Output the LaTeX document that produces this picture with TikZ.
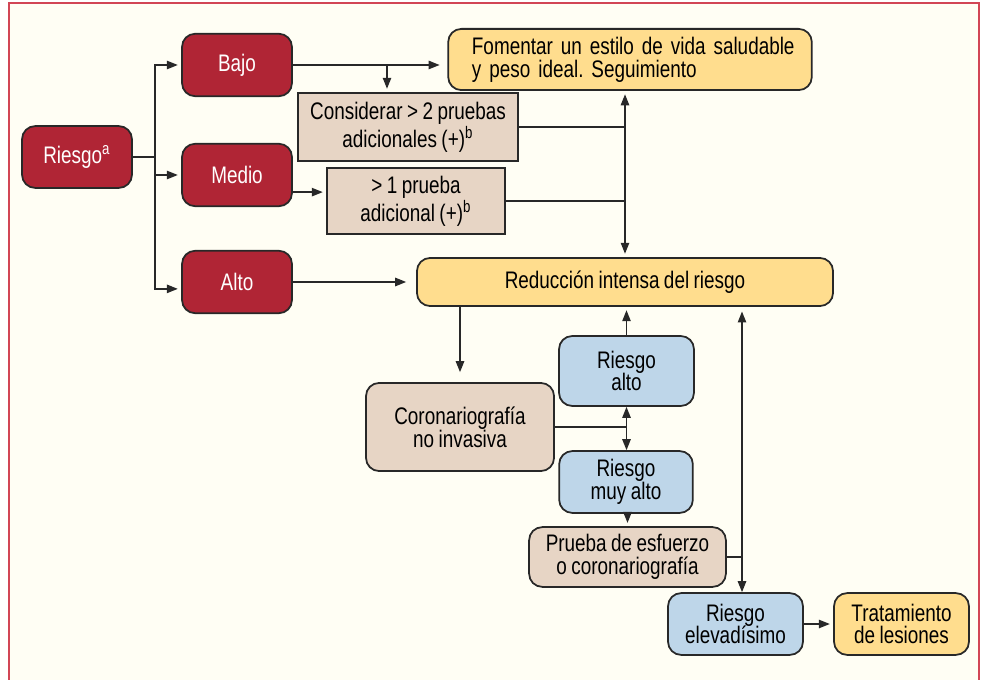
\documentclass[tikz,border=0pt]{standalone}
\usepackage{fontspec}
\setmainfont[FakeStretch=0.79, WordSpace=0.85]{Liberation Sans}
\usepackage{xcolor}
\definecolor{RiskRed}     {RGB}{176, 37,  53}
\definecolor{AdviceYellow}{RGB}{255, 221, 142}
\definecolor{TestTan}     {RGB}{231, 213, 197}
\definecolor{StageBlue}   {RGB}{190, 214, 233}
\definecolor{PaperCream}  {RGB}{255, 254, 244}
\definecolor{FrameRed}    {RGB}{210, 70,  85}
\definecolor{LineGray}    {RGB}{40,  40,  40}
\usepackage{tikz}
\usetikzlibrary{
  arrows.meta,
  calc
}
\frenchspacing

\begin{document}
\begin{tikzpicture}[
  x=0.016cm, y=-0.016cm,
  font=\fontsize{10.9}{10.4}\selectfont,
  level/.style={
    draw=LineGray, fill=RiskRed,
    text=white, rounded corners=6pt,
    minimum width=1.76cm,
    minimum height=1cm,
    align=center, line width=0.8pt
  },
  advice/.style={
    draw=LineGray, fill=AdviceYellow,
    rounded corners=6pt,
    align=center, line width=0.8pt
  },
  test/.style={
    draw=LineGray, fill=TestTan,
    align=center, line width=0.8pt
  },
  stage/.style={
    draw=LineGray, fill=StageBlue,
    rounded corners=6pt,
    minimum width=2.16cm,
    align=center, line width=0.8pt
  },
  link/.style={
    line width=0.7pt, color=LineGray},
  arrow/.style={
    -{Triangle[length=5pt,width=3.8pt]},
    shorten >=1.5pt,
    line width=0.7pt, color=LineGray},
  both/.style={
    {Triangle[length=5pt,width=3.8pt]}-{Triangle[length=5pt,width=3.8pt]},
    line width=0.7pt, color=LineGray}
]

\useasboundingbox (0,0) rectangle (981,680);
\fill[PaperCream] (9,3) rectangle (979,680);
\draw[FrameRed, line width=0.6pt]
  (9,680) -- (9,3) -- (979,3) -- (979,680);

% risk levels
\node[level, minimum height=0.99cm]
  (riesgo) at (77,157)
  {Riesgo\textsuperscript{a}};
\node[level] (bajo)  at (237,65)  {Bajo};
\node[level] (medio) at (237,175) {Medio};
\node[level] (alto)  at (237,282) {Alto};

% recommendations
\node[advice, align=left,
  text width=5.06cm, inner xsep=0.38cm,
  minimum height=0.98cm]
  (fomentar) at (630,59.5)
  {\mbox{Fomentar un estilo de vida saludable}\\
  y peso ideal. Seguimiento};
\node[test, minimum width=3.52cm,
  minimum height=1.09cm]
  (considerar) at (408,127)
  {Considerar > 2 pruebas\\
  adicionales (+)\textsuperscript{b}};
\node[test, minimum width=2.85cm,
  minimum height=1.06cm]
  (unaprueba) at (416,201)
  {> 1 prueba\\adicional (+)\textsuperscript{b}};
\node[advice, minimum width=6.66cm,
  minimum height=0.77cm]
  (reduccion) at (625,282)
  {Reducción intensa del riesgo};

% invasive path
\node[stage, minimum height=1.12cm]
  (ralto) at (626.5,371) {Riesgo\\alto};
\node[test, rounded corners=6pt,
  minimum width=3.01cm,
  minimum height=1.41cm]
  (corona) at (460,427)
  {Coronariografía\\no invasiva};
\node[stage, minimum width=2.14cm,
  minimum height=0.99cm]
  (muyalto) at (626,482) {Riesgo\\muy alto};
\node[test, rounded corners=6pt,
  minimum width=3.15cm,
  minimum height=0.86cm]
  (esfuerzo) at (627.5,557)
  {Prueba de esfuerzo\\o coronariografía};
\node[stage, minimum height=0.99cm]
  (elevad) at (735.5,624)
  {Riesgo\\elevadísimo};
\node[advice, minimum width=2.16cm,
  minimum height=0.99cm]
  (tratam) at (901.5,624)
  {Tratamiento\\de lesiones};

% branches
\coordinate (split) at (155,157);
\draw[link] (riesgo.east) -- (split);
\draw[arrow] (split) |- (bajo.west);
\draw[arrow] (split) |- (medio.west);
\draw[arrow] (split) |- ([yshift=-0.11cm]alto.west);

\draw[arrow, shorten >=3.5pt]
  (bajo.east) -- (bajo.east -| fomentar.west);
\coordinate (drop) at (387,65);
\draw[arrow] (drop) -- (drop |- considerar.north);
\coordinate (medout) at ([yshift=0.24cm]medio.south east);
\draw[arrow] (medout) -- (medout -| unaprueba.west);
\draw[arrow, shorten >=4.5pt]
  (alto.east) -- (reduccion.west);

\draw[both, shorten <=1.5pt, shorten >=1.5pt]
  (fomentar.south -| reduccion) -- (reduccion.north);
\draw[link] (considerar.east) -- (considerar.east -| reduccion);
\draw[link] (unaprueba.east) -- (unaprueba.east -| reduccion);

% below the reduction box
\draw[arrow, shorten >=4.5pt]
  (reduccion.south -| corona) -- (corona.north);
\draw[arrow] (ralto.north) -- (ralto.north |- reduccion.south);
\draw[both] (ralto.south) -- (ralto.south |- muyalto.north);
\draw[link] (corona.east) -- (corona.east -| ralto);
\draw[arrow] (muyalto.south -| esfuerzo) -- (esfuerzo.north);

\coordinate (rcol) at (742,306);
\draw[both, shorten <=2.5pt]
  (rcol) -- (rcol |- elevad.north);
\draw[link] (esfuerzo.east) -- (esfuerzo.east -| rcol);
\draw[arrow] (elevad.east) -- (tratam.west);

\end{tikzpicture}
\end{document}
